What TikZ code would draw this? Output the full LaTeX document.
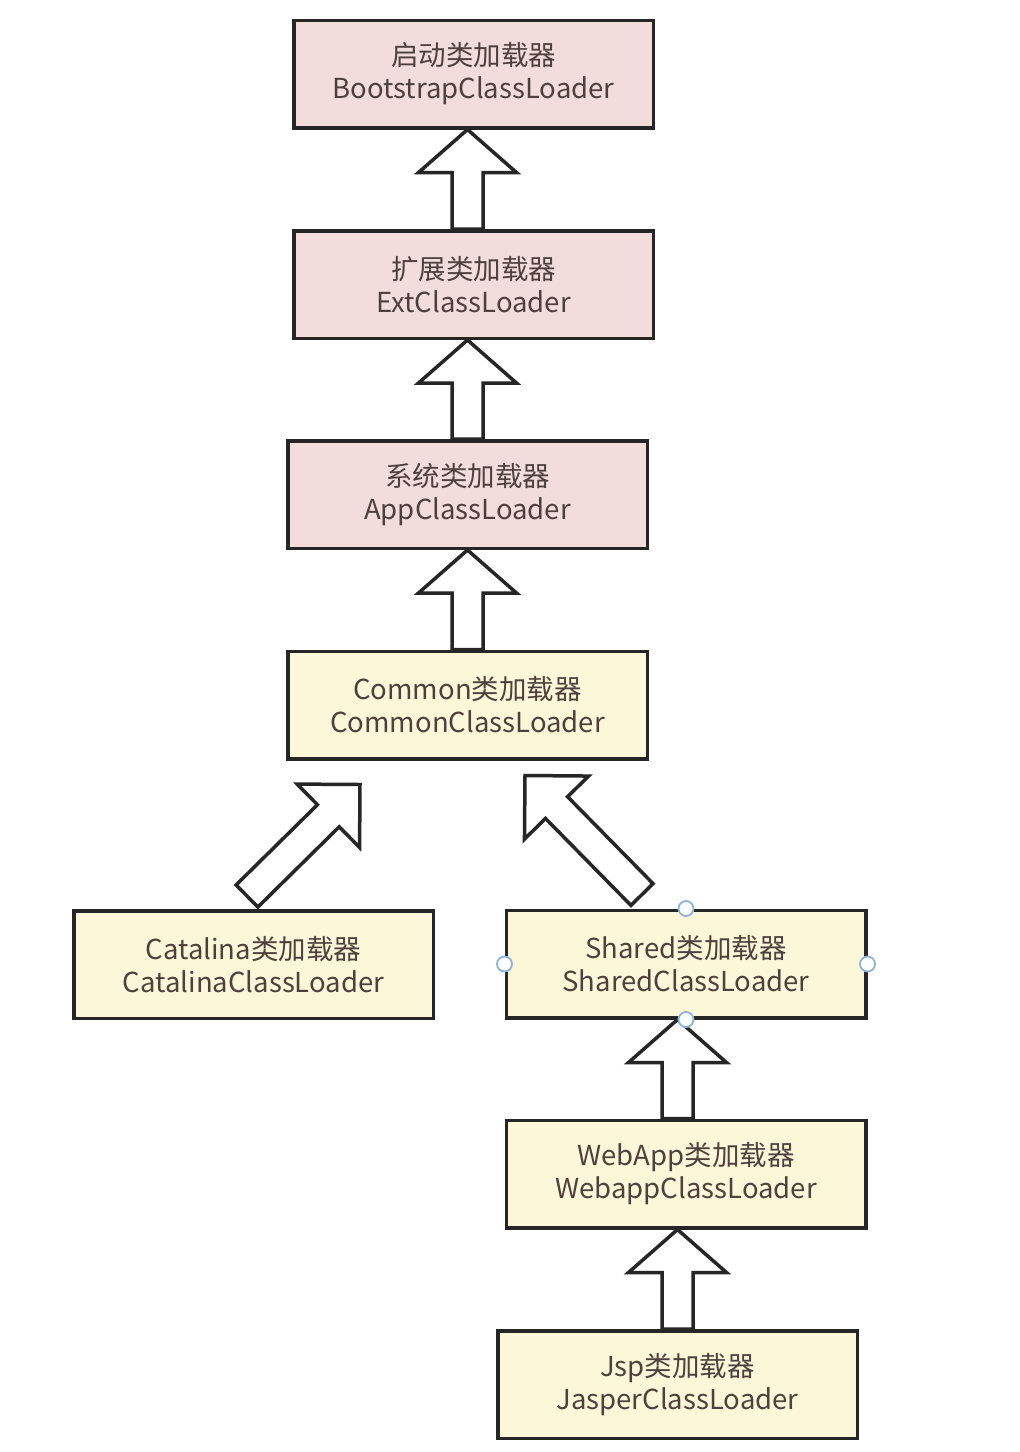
\documentclass[tikz,border=0pt]{standalone}
\usepackage{fontspec}
\setmainfont{Noto Sans CJK SC}
\usetikzlibrary{calc}

\definecolor{edge}{HTML}{262626}
\definecolor{jvmfill}{HTML}{F2DDDC}
\definecolor{tomcatfill}{HTML}{FDF7DA}
\definecolor{txt}{HTML}{4F403B}
\definecolor{handle}{HTML}{8DB3DB}

\tikzset{
  loader/.style={draw=edge, line width=3.5pt, minimum width=359.5pt, minimum height=107.5pt,
    inner sep=0pt, align=center, text=txt, font=\fontsize{27.5}{33}\selectfont},
  jvm/.style={loader, fill=jvmfill},
  tomcat/.style={loader, fill=tomcatfill},
  hollow/.style={draw=edge, line width=3.5pt, fill=white, line join=miter},
  grip/.style={circle, draw=handle, fill=white, line width=1.8pt, minimum size=15pt, inner sep=0pt},
}

% hollow block arrow: tail, tip, head half-width, head length
\newcommand{\liftarrow}[4]{%
  \coordinate (la-base) at ($(#2)!#4!(#1)$);
  \draw[hollow] ($(#1)!15.5pt!90:(#2)$) -- ($(la-base)!15.5pt!90:(#2)$)
    -- ($(la-base)!#3!90:(#2)$) -- (#2) -- ($(la-base)!#3!-90:(#2)$)
    -- ($(la-base)!15.5pt!-90:(#2)$) -- ($(#1)!15.5pt!-90:(#2)$) -- cycle;
}

\begin{document}
\begin{tikzpicture}[x=1pt, y=1pt]
\useasboundingbox[fill=white] (0,0) rectangle (1020,-1452);

% JVM class loaders
\node[jvm] (boot) at (473.5,-74) {启动类加载器\\BootstrapClassLoader};
\node[jvm] (ext) at (473.5,-284.5) {扩展类加载器\\ExtClassLoader};
\node[jvm] (app) at (467.5,-494.5) {系统类加载器\\AppClassLoader};

% Tomcat class loaders
\node[tomcat] (common) at (467.5,-705) {Common类加载器\\CommonClassLoader};
\node[tomcat] (cat) at (253.5,-964.5) {Catalina类加载器\\CatalinaClassLoader};
\node[tomcat] (shared) at (686,-964) {Shared类加载器\\SharedClassLoader};
\node[tomcat] (webapp) at (686,-1174) {WebApp类加载器\\WebappClassLoader};
\node[tomcat] (jsp) at (677.5,-1384.5) {Jsp类加载器\\JasperClassLoader};

% arrow ends
\coordinate (a1t) at (ext.north -| app.north);
\coordinate (a1h) at (boot.south -| app.south);
\coordinate (a2t) at (app.north);
\coordinate (a2h) at (ext.south -| app.south);
\coordinate (a3t) at (common.north);
\coordinate (a3h) at (app.south);
\coordinate (a4t) at ($(cat.north)+(-6.5,13)$);
\coordinate (a4h) at ($(common.south)+(-107.5,-24)$);
\coordinate (a5t) at ($(shared.north)+(-44,14)$);
\coordinate (a5h) at ($(common.south)+(57.5,-15)$);
\coordinate (a6t) at (webapp.north -| jsp.north);
\coordinate (a6h) at (shared.south -| jsp.south);
\coordinate (a7t) at (jsp.north);
\coordinate (a7h) at (webapp.south -| jsp.south);

\liftarrow{a1t}{a1h}{49pt}{43pt}
\liftarrow{a2t}{a2h}{49pt}{43pt}
\liftarrow{a3t}{a3h}{49pt}{43pt}
\liftarrow{a4t}{a4h}{44.5pt}{44.5pt}
\liftarrow{a5t}{a5h}{45pt}{45pt}
\liftarrow{a6t}{a6h}{49pt}{43pt}
\liftarrow{a7t}{a7h}{49pt}{43pt}

% selection handles
\node[grip] (gn) at (shared.north) {};
\node[grip] (gw) at (shared.west) {};
\node[grip] (ge) at (shared.east) {};
\node[grip] (gs) at (shared.south) {};
\end{tikzpicture}
\end{document}
